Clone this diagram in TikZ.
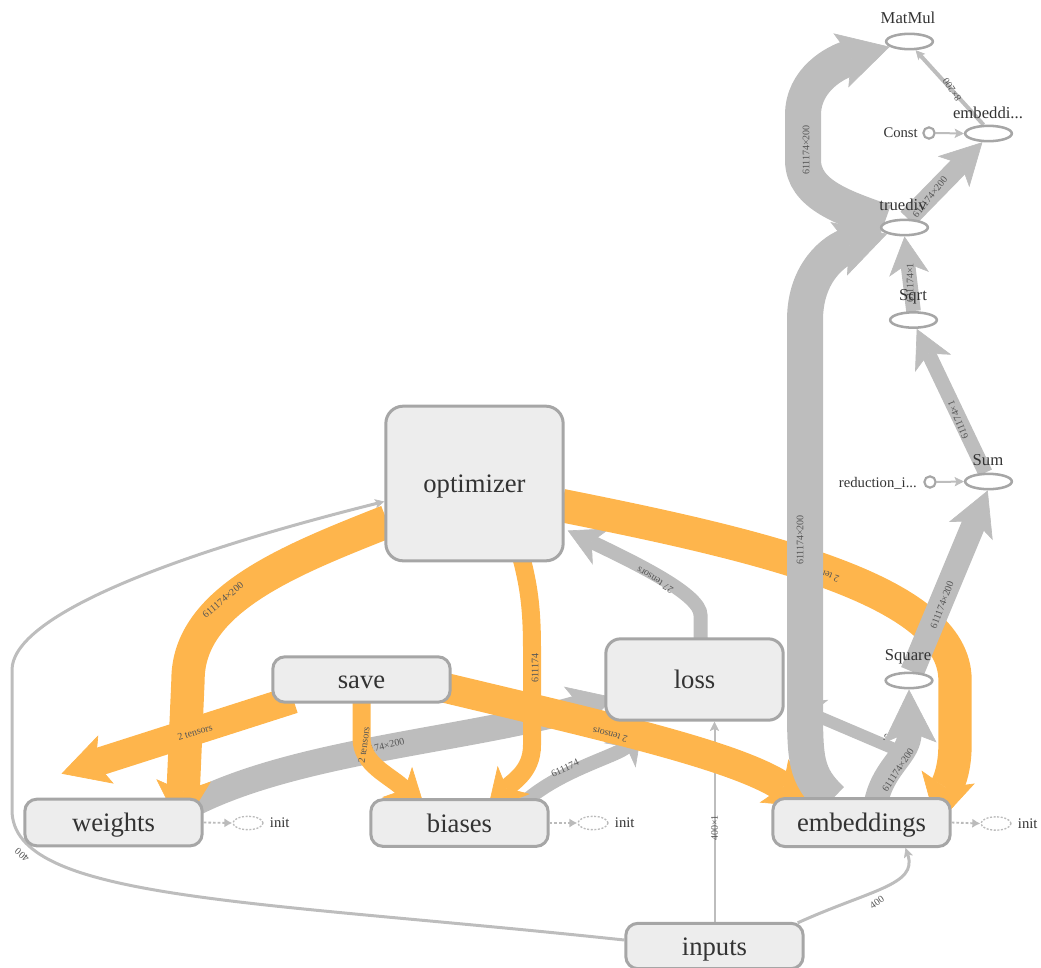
\documentclass[tikz,border=0pt]{standalone}
\usepackage{fontspec}
\setmainfont{Liberation Serif}
\usetikzlibrary{arrows.meta,calc,shapes.geometric}
\pgfdeclarelayer{edges}
\pgfsetlayers{edges,main}

\definecolor{egray}{HTML}{BDBDBD}
\definecolor{eorange}{HTML}{FEB54C}
\definecolor{boxfill}{HTML}{EDEDED}
\definecolor{boxline}{HTML}{A6A6A6}
\definecolor{dashline}{HTML}{BBBBBB}
\definecolor{txt}{HTML}{333333}
\definecolor{ltxt}{HTML}{555555}

\tikzset{
  box/.style={draw=boxline, fill=boxfill, line width=2.25pt, rounded corners=9pt,
    inner sep=0pt, text=txt, font=\fontsize{20}{24}\selectfont,
    text height=17pt, text depth=3pt},
  opnode/.style={ellipse, draw=boxline, fill=white, line width=1.9pt,
    minimum width=35pt, minimum height=11.5pt, inner sep=0pt},
  cnode/.style={circle, draw=boxline, fill=white, line width=1.6pt,
    minimum size=8.5pt, inner sep=0pt},
  initnode/.style={ellipse, draw=dashline, dash pattern=on 1.5pt off 1.2pt,
    line width=1pt, minimum width=22.5pt, minimum height=10pt, inner sep=0pt},
  oplabel/.style={text=txt, font=\fontsize{12.5}{14}\selectfont, inner sep=0pt},
  smalllabel/.style={text=txt, font=\fontsize{11}{13}\selectfont, inner sep=0pt},
  elabel/.style={text=ltxt, font=\fontsize{7.5}{9}\selectfont, inner sep=0pt},
  gband/.style n args={3}{draw=egray, line width=#1,
    -{Stealth[length=#2, width=#3, inset=8pt, line width=0.5pt]}},
  oband/.style n args={3}{draw=eorange, line width=#1,
    -{Stealth[length=#2, width=#3, inset=8pt, line width=0.5pt]}},
  wire/.style={draw=egray, line width=#1,
    -{Stealth[length=7pt, width=7pt, inset=1.5pt, line width=0.5pt]}},
  initedge/.style={draw=dashline, line width=1.4pt, dash pattern=on 2pt off 1.5pt,
    -{Latex[length=6pt, width=7pt]}},
}

\begin{document}
\begin{tikzpicture}[x=0.75pt,y=-0.75pt]
\useasboundingbox (0,0) rectangle (1041,967);

% ---------- group boxes ----------
\node[box, minimum width=133pt, minimum height=116pt, rounded corners=13pt] (optimizer) at (474.5,483.5) {optimizer};
\node[box, minimum width=133pt, minimum height=34pt] (save) at (361.5,679.5) {save};
\node[box, minimum width=133pt, minimum height=61pt, rounded corners=11pt] (loss) at (694.5,679.5) {loss};
\node[box, minimum width=133pt, minimum height=35pt] (weights) at (113.5,822.5) {weights};
\node[box, minimum width=133pt, minimum height=35pt] (biases) at (459.5,823) {biases};
\node[box, minimum width=133pt, minimum height=36pt] (embeddings) at (861.5,822.5) {embeddings};
\node[box, minimum width=133pt, minimum height=34pt] (inputs) at (714.5,946) {inputs};

% ---------- operation nodes ----------
\node[opnode] (matmul) at (909.5,41.5) {};
\node[opnode] (embeddi) at (988.5,133.5) {};
\node[opnode] (truediv) at (904.5,227.5) {};
\node[opnode] (sqrt) at (913.5,320) {};
\node[opnode] (sum) at (988.5,481.5) {};
\node[opnode] (square) at (909,680.5) {};
\node[cnode] (const) at (929,133) {};
\node[cnode] (reduction) at (930,482) {};

\node[oplabel] (matmul-t) at (908,18) {MatMul};
\node[oplabel] (embeddi-t) at (988,113) {embeddi...};
\node[oplabel] (truediv-t) at (903,205) {truediv};
\node[oplabel] (sqrt-t) at (913,297) {Sqrt};
\node[oplabel] (sum-t) at (988,460) {Sum};
\node[oplabel] (square-t) at (908,657) {Square};
\node[smalllabel, anchor=east] (const-t) at (918,133) {Const};
\node[smalllabel, anchor=east] (reduction-t) at (917,483) {reduction\_i...};

% ---------- init nodes ----------
\node[initnode] (winit) at (248,823) {};
\node[initnode] (binit) at (593,823) {};
\node[initnode] (einit) at (996,823.5) {};
\node[smalllabel, anchor=west] (winit-t) at ($(winit.east)+(6,0)$) {init};
\node[smalllabel, anchor=west] (binit-t) at ($(binit.east)+(6,0)$) {init};
\node[smalllabel, anchor=west] (einit-t) at ($(einit.east)+(6,0)$) {init};

\begin{pgfonlayer}{edges}
% ---------- thin data edges from inputs ----------
\draw[wire=2.25pt] ($(inputs.west)+(0,-6)$) .. controls (250,900) and (12,900) .. (12,810)
  -- (12,670) .. controls (12,620) and (150,560) .. ($(optimizer.west)+(0,18)$);
\node[elabel, rotate=140] (l-io) at (22,855) {400};
\draw[wire=1.5pt] (inputs.north) -- ($(loss.south)+(20,0)$);
\node[elabel, rotate=90] (l-il) at (714.5,828) {400×1};
\draw[wire=2.25pt] ($(inputs.north east)+(-7,1)$) .. controls (870,890) and (918,885) .. ($(embeddings.south)+(44,0)$);
\node[elabel, rotate=35] (l-ie) at (877,902) {400};

% ---------- gray bands into loss / optimizer ----------
\draw[gband={19.5pt}{34pt}{37pt}] ($(weights.north)+(80,6)$) .. controls (300,750) and (470,740) .. ($(loss.west)+(10,18)$);
\node[elabel, rotate=14] (l-wl) at (380,747) {611174×200};
\draw[gband={10.5pt}{28pt}{30pt}] ($(biases.north)+(65,4)$) .. controls (560,770) and (620,755) .. ($(loss.south)+(-52,4)$);
\node[elabel, rotate=25] (l-bl) at (565,768) {611174};
\draw[gband={10.5pt}{28pt}{30pt}] ($(loss.north)+(6,3)$) -- (700.5,615) .. controls (700.5,595) and (640,565) .. ($(optimizer.east)+(3,47)$);
\node[elabel, rotate=148] (l-lo) at (655,580) {27 tensors};

% ---------- orange bands ----------
\draw[oband={25pt}{37pt}{41pt}] ($(optimizer.west)+(3,38)$) .. controls (290,560) and (188,600) .. (188,680) -- ($(weights.north)+(68,32)$);
\node[elabel, rotate=40] (l-ow) at (223,600) {611174×200};
\draw[oband={13.5pt}{30pt}{32pt}] ($(optimizer.south)+(47,-4)$) .. controls (530,590) and (532,615) .. (532,650)
  -- (532,745) .. controls (532,772) and (512,782) .. ($(biases.north)+(28,12)$);
\node[elabel, rotate=90] (l-ob) at (535,668) {611174};
\draw[oband={25pt}{37pt}{41pt}] ($(optimizer.east)+(-3,22)$) .. controls (760,545) and (955,590) .. (955,680)
  -- (955,745) .. controls (955,775) and (945,790) .. ($(embeddings.north)+(75,28)$);
\node[elabel, rotate=160] (l-oe) at (822,573) {2 tensors};
\draw[oband={21pt}{35pt}{38pt}] ($(save.west)+(22,20)$) -- ($(weights.north)+(-52,-24)$);
\node[elabel, rotate=17] (l-sw) at (195,732) {2 tensors};
\draw[oband={13.5pt}{30pt}{32pt}] ($(save.south)+(0,-4)$) -- (361.5,738) .. controls (361.5,765) and (390,775) .. ($(biases.north)+(-34,12)$);
\node[elabel, rotate=82] (l-sb) at (364,745) {2 tensors};
\draw[oband={22.5pt}{35.5pt}{39pt}] ($(save.east)+(-8,8)$) .. controls (600,725) and (735,755) .. ($(embeddings.north)+(-48,10)$);
\node[elabel, rotate=164] (l-se) at (610,735) {2 tensors};

% ---------- gray bands of the normalisation branch ----------
\draw[gband={9pt}{27pt}{29pt}] ($(embeddings.north)+(40,-45)$) -- ($(loss.east)+(3,24)$);
\node[elabel, rotate=157] (l-el) at (886,737) {5};
\draw[gband={27pt}{38pt}{42pt}] ($(embeddings.north)+(-30,3)$) .. controls (805,775) and (805,760) .. (805,700)
  -- (805,320) .. controls (805,272) and (835,250) .. (truediv.200);
\node[elabel, rotate=90] (l-et) at (800,540) {611174×200};
\draw[gband={27pt}{38pt}{42pt}] (truediv.165) .. controls (845,208) and (803,195) .. (803,160)
  -- (803,115) .. controls (803,80) and (835,62) .. (matmul.195);
\node[elabel, rotate=90] (l-tm) at (806,150) {611174×200};
\draw[gband={15pt}{31pt}{33pt}] (truediv.70) -- (embeddi.235);
\node[elabel, rotate=52] (l-te) at (930,197) {611174×200};
\draw[gband={11pt}{28.6pt}{30pt}] (sqrt.north) -- (truediv.south);
\node[elabel, rotate=90] (l-st) at (910,283) {611174×1};
\draw[gband={11pt}{28.6pt}{30pt}] (sum.110) -- (sqrt.-70);
\node[elabel, rotate=112] (l-us) at (958,420) {611174×1};
\draw[gband={18pt}{33pt}{35.5pt}] (square.70) -- (sum.-95);
\node[elabel, rotate=69] (l-qu) at (942,605) {611174×200};
\draw[gband={18pt}{40pt}{40pt}] ($(embeddings.north)+(15,3)$) .. controls (885,765) and (910,755) .. (square.south);
\node[elabel, rotate=57] (l-eq) at (898,770) {611174×200};

% ---------- thin edges among operations ----------
\draw[wire=3pt] (embeddi.120) -- (matmul.-55);
\node[elabel, rotate=124] (l-em) at (952,90) {8×200};
\draw[wire=1.5pt] (const.east) -- (embeddi.west);
\draw[wire=1.5pt] (reduction.east) -- (sum.west);

% ---------- initialiser links ----------
\draw[initedge] (weights.east) -- (winit.west);
\draw[initedge] (biases.east) -- (binit.west);
\draw[initedge] (embeddings.east) -- (einit.west);
\end{pgfonlayer}
\end{tikzpicture}
\end{document}
